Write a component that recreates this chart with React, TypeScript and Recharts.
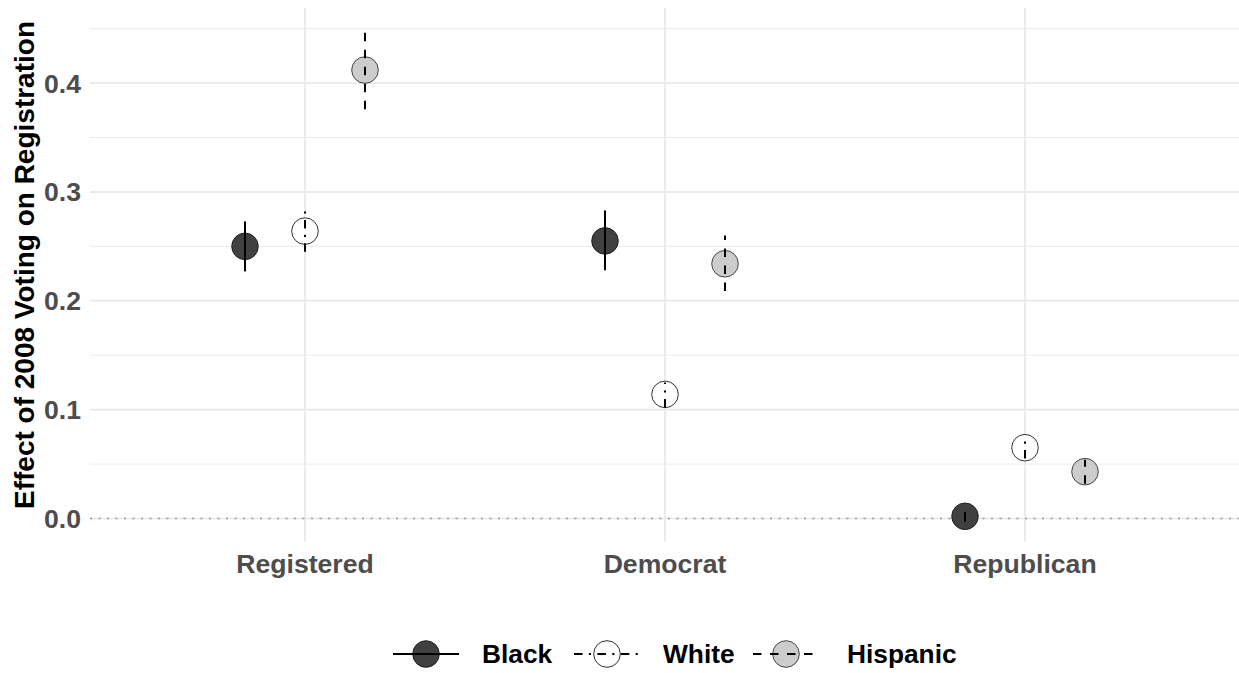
import React from 'react';
import { ScatterChart, Scatter, XAxis, YAxis, ReferenceLine } from 'recharts';

const categories = ['Registered', 'Democrat', 'Republican'];
const groups = ['Black', 'White', 'Hispanic'];

const blackEst = [0.25, 0.255, 0.002];
const blackLow = [0.227, 0.228, -0.003];
const blackHigh = [0.273, 0.283, 0.006];

const whiteEst = [0.264, 0.114, 0.065];
const whiteLow = [0.245, 0.102, 0.055];
const whiteHigh = [0.282, 0.125, 0.075];

const hispEst = [0.412, 0.234, 0.043];
const hispLow = [0.376, 0.209, 0.032];
const hispHigh = [0.447, 0.26, 0.054];

const yTicks = [0, 0.1, 0.2, 0.3, 0.4];
const yMinor = [0.05, 0.15, 0.25, 0.35, 0.45];
const xTicks = [1, 2, 3];

const dodge = [-1 / 6, 0, 1 / 6];
const fills = ['#404040', '#ffffff', '#cccccc'];
const strokes = ['#1a1a1a', '#1a1a1a', '#333333'];
const dashes: (string | undefined)[] = [undefined, '8.5 6.4 2.1 6.4', '8.5 8.5'];

const FONT = '"Liberation Sans", Arial, Helvetica, sans-serif';

function buildPoints(est: number[], off: number) {
  return est.map((v, i) => ({ x: i + 1 + off, y: v }));
}
function buildRanges(low: number[], high: number[], off: number) {
  return low.map((l, i) => [
    { x: i + 1 + off, y: l },
    { x: i + 1 + off, y: high[i] },
  ]);
}

const pointData = [
  buildPoints(blackEst, dodge[0]),
  buildPoints(whiteEst, dodge[1]),
  buildPoints(hispEst, dodge[2]),
];
const rangeData = [
  buildRanges(blackLow, blackHigh, dodge[0]),
  buildRanges(whiteLow, whiteHigh, dodge[1]),
  buildRanges(hispLow, hispHigh, dodge[2]),
];

const makeDot = (gi: number) => (props: any) => (
  <circle cx={props.cx} cy={props.cy} r={13.3} fill={fills[gi]} stroke={strokes[gi]} strokeWidth={0.9} />
);
const empty = () => <g />;

const legendKeyX = [393, 574, 753];
const legendTextX = [482, 663, 847];

export default function App() {
  return (
    <div style={{ position: 'absolute', left: 0, top: 0, width: 1239, height: 673, background: '#fff' }}>
      <ScatterChart width={1239} height={673} margin={{ top: 8, right: 0, bottom: 92, left: 0 }}>
        <XAxis
          type="number"
          dataKey="x"
          domain={[0.4028, 3.5944]}
          allowDataOverflow
          ticks={xTicks}
          tickFormatter={(v: number) => categories[Math.round(v) - 1] ?? ''}
          axisLine={false}
          tickLine={false}
          tickSize={0}
          tickMargin={13}
          height={40}
          interval={0}
          tick={{ fill: '#4D4D4D', fontSize: 26.6, fontWeight: 'bold', fontFamily: FONT }}
        />
        <YAxis
          type="number"
          dataKey="y"
          domain={[-0.0207, 0.469]}
          allowDataOverflow
          ticks={yTicks}
          tickFormatter={(v: number) => v.toFixed(1)}
          axisLine={false}
          tickLine={false}
          tickSize={0}
          tickMargin={9}
          width={90}
          interval={0}
          tick={{ fill: '#4D4D4D', fontSize: 26.6, fontWeight: 'bold', fontFamily: FONT }}
        />
        {yMinor.map((v) => (
          <ReferenceLine key={'mn' + v} y={v} stroke="#EBEBEB" strokeWidth={1} />
        ))}
        {yTicks.map((v) => (
          <ReferenceLine key={'mj' + v} y={v} stroke="#EBEBEB" strokeWidth={2} />
        ))}
        {xTicks.map((v) => (
          <ReferenceLine key={'vx' + v} x={v} stroke="#EBEBEB" strokeWidth={2} />
        ))}
        <ReferenceLine y={0} stroke="#999999" strokeWidth={1.6} strokeDasharray="2 6.5" />
        {pointData.map((d, gi) => (
          <Scatter
            key={'pt' + gi}
            name={groups[gi]}
            data={d}
            isAnimationActive={false}
            shape={makeDot(gi)}
          />
        ))}
        {rangeData.map((segs, gi) =>
          segs.map((seg, si) => (
            <Scatter
              key={'rg' + gi + '-' + si}
              data={seg}
              isAnimationActive={false}
              shape={empty}
              line={{ stroke: '#000', strokeWidth: 2, strokeDasharray: dashes[gi] }}
              lineType="joint"
            />
          ))
        )}
      </ScatterChart>
      <svg
        width={1239}
        height={673}
        style={{ position: 'absolute', left: 0, top: 0, pointerEvents: 'none' }}
      >
        <text
          x={33.5}
          y={265}
          transform="rotate(-90, 33.5, 265)"
          textAnchor="middle"
          fontFamily={FONT}
          fontWeight="bold"
          fontSize={28}
          fill="#000"
        >
          Effect of 2008 Voting on Registration
        </text>
        {groups.map((g, gi) => (
          <g key={'lg' + g}>
            <circle cx={legendKeyX[gi] + 33} cy={654} r={13.3} fill={fills[gi]} stroke={strokes[gi]} strokeWidth={0.9} />
            <line
              x1={legendKeyX[gi]}
              x2={legendKeyX[gi] + 66}
              y1={654}
              y2={654}
              stroke="#000"
              strokeWidth={2}
              strokeDasharray={dashes[gi]}
            />
            <text x={legendTextX[gi]} y={663} fontFamily={FONT} fontWeight="bold" fontSize={26.3} fill="#000">
              {g}
            </text>
          </g>
        ))}
      </svg>
    </div>
  );
}
